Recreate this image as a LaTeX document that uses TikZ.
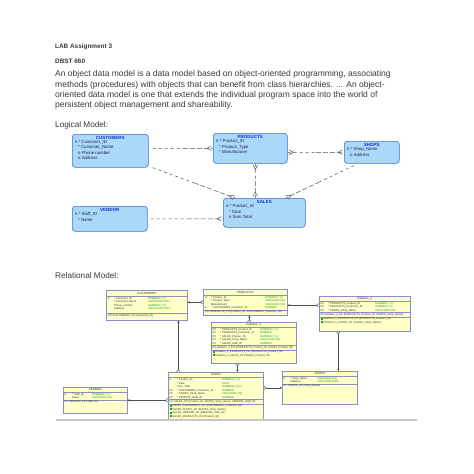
\documentclass[tikz,border=0pt]{standalone}
\usepackage{fontspec}
\setmainfont{Liberation Sans}
\usetikzlibrary{calc,arrows.meta}

\definecolor{doctext}{HTML}{3A3A3A}
\definecolor{entfill}{HTML}{A9D8F8}
\definecolor{entblue}{HTML}{3A6FD8}
\definecolor{titleblue}{HTML}{1A2FD0}
\definecolor{attrtext}{HTML}{23234A}
\definecolor{tabfill}{HTML}{FFFFC8}
\definecolor{tabborder}{HTML}{8C8CC8}
\definecolor{typegreen}{HTML}{22A022}
\definecolor{linkgrey}{HTML}{505050}

\newcommand{\ty}[1]{\textcolor{typegreen}{#1}}
\newcommand{\pkmark}{\textcolor{titleblue}{PK}}
\newcommand{\fkmark}{\textcolor{typegreen}{\rule{2.2pt}{2.2pt}}}

% crow's foot at the second point
\newcommand{\crowsfoot}[2]{%
  \draw[rel] ($(#2)!6pt!(#1)$) -- ($(#2)!3pt!90:(#1)$)
             ($(#2)!6pt!(#1)$) -- ($(#2)!3pt!-90:(#1)$);}
\newcommand{\relation}[2]{%
  \draw[rel,dashed] (#1) -- ($(#1)!.5!(#2)$);
  \draw[rel] ($(#1)!.5!(#2)$) -- (#2);
  \crowsfoot{#1}{#2}}

\tikzset{
  doctext/.style={text=doctext, inner sep=0, anchor=west},
  entity/.style={draw=entblue, fill=entfill, rounded corners=3pt, line width=0.6pt, anchor=north west, inner sep=0},
  etitle/.style={font=\fontsize{4.5}{5}\selectfont\bfseries, text=titleblue, inner sep=0},
  eattr/.style={font=\fontsize{4.3}{5.2}\selectfont, text=attrtext, align=left, anchor=north west, inner sep=0},
  rel/.style={draw=linkgrey, line width=0.5pt, dash pattern=on 5pt off 2pt},
  reltab/.style={draw=tabborder, fill=tabfill, line width=0.6pt, anchor=north west, inner sep=0},
  rtitle/.style={font=\fontsize{3}{3.5}\selectfont, text=black!80, inner sep=0},
  rtext/.style={font=\fontsize{2.7}{3.5}\selectfont, text=black!80, anchor=north west, inner sep=0, align=left},
  rsep/.style={draw=tabborder, line width=0.5pt},
  fkline/.style={draw=linkgrey, line width=0.5pt,
    arrows={Stealth[length=2.2pt,width=2.4pt]-Straight Barb[reversed,length=2pt,width=3.6pt]}},
  pagerule/.style={draw=black!22, line width=1.5pt}
}

\begin{document}
\begin{tikzpicture}[x=1pt,y=-1pt]
\useasboundingbox[fill=white] (0,0) rectangle (474,474);

% page text
\node[doctext, font=\fontsize{6.4}{8}\selectfont\bfseries] (labtitle) at (55,47) {LAB Assignment 3};
\node[doctext, font=\fontsize{6.4}{8}\selectfont\bfseries] (course) at (55,61) {DBST 660};
\node[doctext, font=\fontsize{8.5}{10.2}\selectfont, anchor=north west, align=left] (intro) at (55,70.5)
  {An object data model is a data model based on object-oriented programming, associating\\
   methods (procedures) with objects that can benefit from class hierarchies. ... An object-\\
   oriented data model is one that extends the individual program space into the world of\\
   persistent object management and shareability.};
\node[doctext, font=\fontsize{8.2}{9}\selectfont] (logical) at (55,125) {Logical Model:};
\node[doctext, font=\fontsize{8.2}{9}\selectfont] (relational) at (55,276) {Relational Model:};

% logical model
\node[entity, minimum width=76, minimum height=33] (lcust) at (72,134) {};
\node[etitle] at ([yshift=-3.5]lcust.north) {CUSTOMERS};
\node[eattr] at ([xshift=3,yshift=-6.5]lcust.north west)
  {\# * Customer\_ID\\\hspace{3pt}* Customer\_Name\\\hspace{3pt}o Phone number\\\hspace{3pt}o Address};

\node[entity, minimum width=74, minimum height=30] (lprod) at (213,133) {};
\node[etitle] at ([yshift=-3.5]lprod.north) {PRODUCTS};
\node[eattr] at ([xshift=3,yshift=-6.5]lprod.north west)
  {\# * Product\_ID\\\hspace{3pt}* Product\_Type\\\hspace{3pt}* Manufacturer};

\node[entity, minimum width=55, minimum height=22] (lshop) at (344,141) {};
\node[etitle] at ([yshift=-3.5]lshop.north) {SHOPS};
\node[eattr] at ([xshift=3,yshift=-6.5]lshop.north west)
  {\# * Shop\_Name\\\hspace{3pt}o Address};

\node[entity, minimum width=82, minimum height=29] (lsale) at (223,198) {};
\node[etitle] at ([yshift=-3.5]lsale.north) {SALES};
\node[eattr] at ([xshift=3,yshift=-6.5]lsale.north west)
  {\# * Product\_ID\\\hspace{3pt}* Date\\\hspace{3pt}o Sum Total};

\node[entity, minimum width=75, minimum height=25] (lvend) at (72,206) {};
\node[etitle] at ([yshift=-3.5]lvend.north) {VENDOR};
\node[eattr] at ([xshift=3,yshift=-6.5]lvend.north west)
  {\# * Staff\_ID\\\hspace{3pt}* Name};

\coordinate (custprodA) at ([xshift=4]lcust.east |- lprod.west);
\coordinate (custsaleA) at ([xshift=4]lcust.south east);
\coordinate (custsaleB) at ([xshift=12]lsale.north west);
\coordinate (prodshopA) at (lprod.east |- lshop.west);
\coordinate (prodsaleA) at ([xshift=5]lprod.south);
\coordinate (prodsaleB) at ([xshift=5]lprod.south |- lsale.north);
\coordinate (shopsaleA) at ([xshift=10,yshift=-2]lshop.south west);
\coordinate (shopsaleB) at ([xshift=-20]lsale.north east);
\coordinate (vendsaleA) at ([xshift=3]lvend.east);
\coordinate (vendsaleB) at (lvend.east -| lsale.west);

\relation{custprodA}{lprod.west}
\relation{custsaleA}{custsaleB}
\relation{prodshopA}{lshop.west}
\crowsfoot{lshop.west}{prodshopA}
\relation{prodsaleA}{prodsaleB}
\crowsfoot{prodsaleB}{prodsaleA}
\relation{shopsaleA}{shopsaleB}
\relation{vendsaleA}{vendsaleB}

% relational model
\node[reltab, minimum width=81, minimum height=30] (rcust) at (106,290) {};
\node[rtitle] at ([yshift=-3]rcust.north) {CUSTOMERS};
\draw[rsep] ([yshift=-6]rcust.north west) -- ([yshift=-6]rcust.north east);
\node[rtext] at ([xshift=2,yshift=-6.8]rcust.north west)
  {\begin{tabular}{@{}p{6pt}@{}p{34pt}@{}l@{}}
   P & * Customer\_ID & \ty{NUMBER (*,0)}\\
     & * Customer\_Name & \ty{VARCHAR2 (255)}\\
     & Phone\_number & \ty{NUMBER (*,0)}\\
     & Address & \ty{VARCHAR2 (255)}
   \end{tabular}};
\draw[rsep] ([yshift=-23]rcust.north west) -- ([yshift=-23]rcust.north east);
\node[rtext] at ([xshift=2,yshift=-24]rcust.north west) {\pkmark\ CUSTOMERS\_PK (Customer\_ID)};

\node[reltab, minimum width=84, minimum height=26] (rprod) at (203,289) {};
\node[rtitle] at ([yshift=-3]rprod.north) {PRODUCTS};
\draw[rsep] ([yshift=-6]rprod.north west) -- ([yshift=-6]rprod.north east);
\node[rtext] at ([xshift=2,yshift=-6.5]rprod.north west)
  {\begin{tabular}{@{}p{6pt}@{}p{54pt}@{}l@{}}
   P & * Product\_ID & \ty{NUMBER (*,0)}\\
     & * Product\_Type & \ty{VARCHAR2 (50)}\\
     & Manufacturer & \ty{VARCHAR2 (50)}\\
   F & * CUSTOMERS\_Customer\_ID & \ty{NUMBER}
   \end{tabular}};
\draw[rsep] ([yshift=-21]rprod.north west) -- ([yshift=-21]rprod.north east);
\node[rtext] at ([xshift=2,yshift=-21.8]rprod.north west) {\pkmark\ PRODUCTS\_PK (Product\_ID, CUSTOMERS\_Customer\_ID)};

\node[reltab, minimum width=91, minimum height=35] (rrel4) at (319,296) {};
\node[rtitle] at ([yshift=-2.7]rrel4.north) {Relation\_4};
\draw[rsep] ([yshift=-5]rrel4.north west) -- ([yshift=-5]rrel4.north east);
\node[rtext] at ([xshift=1.5,yshift=-5.5]rrel4.north west)
  {\begin{tabular}{@{}p{7.5pt}@{}p{47pt}@{}l@{}}
   PF & * PRODUCTS\_Product\_ID & \ty{NUMBER (*,0)}\\
   PF & * PRODUCTS\_Customer\_ID & \ty{NUMBER (*,0)}\\
   PF & * SHOPS\_Shop\_Name & \ty{VARCHAR2 (50)}
   \end{tabular}};
\draw[rsep] ([yshift=-16.5]rrel4.north west) -- ([yshift=-16.5]rrel4.north east);
\node[rtext] at ([xshift=1.5,yshift=-17]rrel4.north west) {\pkmark\ Relation\_4\_PK (PRODUCTS\_Product\_ID, SHOPS\_Shop\_Name)};
\draw[rsep] ([yshift=-21]rrel4.north west) -- ([yshift=-21]rrel4.north east);
\node[rtext] at ([xshift=1.5,yshift=-21.5]rrel4.north west)
  {\fkmark\ Relation\_4\_PRODUCTS\_FK (PRODUCTS\_Product\_ID)\\
   \fkmark\ Relation\_4\_SHOPS\_FK (SHOPS\_Shop\_Name)};

\node[reltab, minimum width=85, minimum height=41] (rrel2) at (211,322) {};
\node[rtitle] at ([yshift=-2.7]rrel2.north) {Relation\_2};
\draw[rsep] ([yshift=-5]rrel2.north west) -- ([yshift=-5]rrel2.north east);
\node[rtext] at ([xshift=1.5,yshift=-5.5]rrel2.north west)
  {\begin{tabular}{@{}p{7.5pt}@{}p{40pt}@{}l@{}}
   PF & * PRODUCTS\_Product\_ID & \ty{NUMBER (*,0)}\\
   PF & * PRODUCTS\_Customer\_ID & \ty{NUMBER}\\
   PF & * SALES\_Product\_ID & \ty{NUMBER (*,0)}\\
   PF & * SALES\_Shop\_Name & \ty{VARCHAR2 (50)}\\
   PF & * SALES\_Staff\_ID & \ty{NUMBER}
   \end{tabular}};
\draw[rsep] ([yshift=-23.5]rrel2.north west) -- ([yshift=-23.5]rrel2.north east);
\node[rtext] at ([xshift=1.5,yshift=-24]rrel2.north west) {\pkmark\ Relation\_2\_PK (PRODUCTS\_Product\_ID, SALES\_Product\_ID)};
\draw[rsep] ([yshift=-28]rrel2.north west) -- ([yshift=-28]rrel2.north east);
\node[rtext] at ([xshift=1.5,yshift=-28.5]rrel2.north west)
  {\fkmark\ Relation\_2\_PRODUCTS\_FK (PRODUCTS\_Product\_ID)\\
   \fkmark\ Relation\_2\_SALES\_FK (SALES\_Product\_ID)};

\node[reltab, minimum width=95, minimum height=47] (rsale) at (168,372) {};
\node[rtitle] at ([yshift=-2.7]rsale.north) {SALES};
\draw[rsep] ([yshift=-5.5]rsale.north west) -- ([yshift=-5.5]rsale.north east);
\node[rtext] at ([xshift=1.5,yshift=-6]rsale.north west)
  {\begin{tabular}{@{}p{7.5pt}@{}p{45pt}@{}l@{}}
   P  & * Product\_ID & \ty{NUMBER (*,0)}\\
      & * Date & \ty{DATE}\\
      & Sum\_Total & \ty{NUMBER (10,2)}\\
   PF & * CUSTOMERS\_Customer\_ID & \ty{NUMBER}\\
   PF & * SHOPS\_Shop\_Name & \ty{VARCHAR2 (50)}\\
   PF & * VENDOR\_Staff\_ID & \ty{NUMBER}
   \end{tabular}};
\draw[rsep] ([yshift=-27.5]rsale.north west) -- ([yshift=-27.5]rsale.north east);
\node[rtext] at ([xshift=1.5,yshift=-28]rsale.north west) {\pkmark\ SALES\_PK (Product\_ID, SHOPS\_Shop\_Name, VENDOR\_Staff\_ID)};
\draw[rsep] ([yshift=-32]rsale.north west) -- ([yshift=-32]rsale.north east);
\node[rtext] at ([xshift=1.5,yshift=-32.5]rsale.north west)
  {\fkmark\ SALES\_CUSTOMERS\_FK (CUSTOMERS\_Customer\_ID)\\
   \fkmark\ SALES\_SHOPS\_FK (SHOPS\_Shop\_Name)\\
   \fkmark\ SALES\_VENDOR\_FK (VENDOR\_Staff\_ID)\\
   \fkmark\ SALES\_PRODUCTS\_FK (Product\_ID)};

\node[reltab, minimum width=75, minimum height=33] (rshop) at (282,371) {};
\node[rtitle] at ([yshift=-2.7]rshop.north) {SHOPS};
\draw[rsep] ([yshift=-5]rshop.north west) -- ([yshift=-5]rshop.north east);
\node[rtext] at ([xshift=1.5,yshift=-5.5]rshop.north west)
  {\begin{tabular}{@{}p{6.5pt}@{}p{27pt}@{}l@{}}
   P & * Shop\_Name & \ty{VARCHAR2 (50)}\\
     & Address & \ty{VARCHAR2 (255)}
   \end{tabular}};
\draw[rsep] ([yshift=-13]rshop.north west) -- ([yshift=-13]rshop.north east);
\node[rtext] at ([xshift=1.5,yshift=-13.5]rshop.north west) {\pkmark\ SHOPS\_PK (Shop\_Name)};

\node[reltab, minimum width=64, minimum height=26] (rvend) at (63,387) {};
\node[rtitle] at ([yshift=-2.7]rvend.north) {VENDOR};
\draw[rsep] ([yshift=-5]rvend.north west) -- ([yshift=-5]rvend.north east);
\node[rtext] at ([xshift=1.5,yshift=-5.5]rvend.north west)
  {\begin{tabular}{@{}p{7.5pt}@{}p{20pt}@{}l@{}}
   P & * Staff\_ID & \ty{NUMBER (*,0)}\\
     & Name & \ty{VARCHAR2 (50)}
   \end{tabular}};
\draw[rsep] ([yshift=-13]rvend.north west) -- ([yshift=-13]rvend.north east);
\node[rtext] at ([xshift=1.5,yshift=-13.5]rvend.north west) {\pkmark\ VENDOR\_PK (Staff\_ID)};

% foreign keys
\draw[fkline] ([yshift=3]rcust.east) -- ([yshift=3]rcust.east -| rprod.west);
\draw[fkline] ([xshift=31.5]rcust.south) -- ([xshift=31.5]rcust.south |- rsale.north);
\draw[fkline] ([xshift=4]rprod.south) -- ([xshift=4]rprod.south |- rrel2.north);
\draw[fkline] ([xshift=-16.5]rrel2.south |- rsale.north) -- ([xshift=-16.5]rrel2.south);
\draw[fkline] ([yshift=-3]rprod.east) -- ([yshift=-3]rprod.east -| rrel4.west);
\draw[fkline] ([xshift=-26.5]rrel4.south |- rshop.north) -- ([xshift=-26.5]rrel4.south);
\draw[fkline] (rshop.west) -- (rshop.west -| rsale.east);
\draw[fkline] (rvend.east) -- (rvend.east -| rsale.west);

\draw[pagerule] (56,420) -- (417,420);
\end{tikzpicture}
\end{document}
